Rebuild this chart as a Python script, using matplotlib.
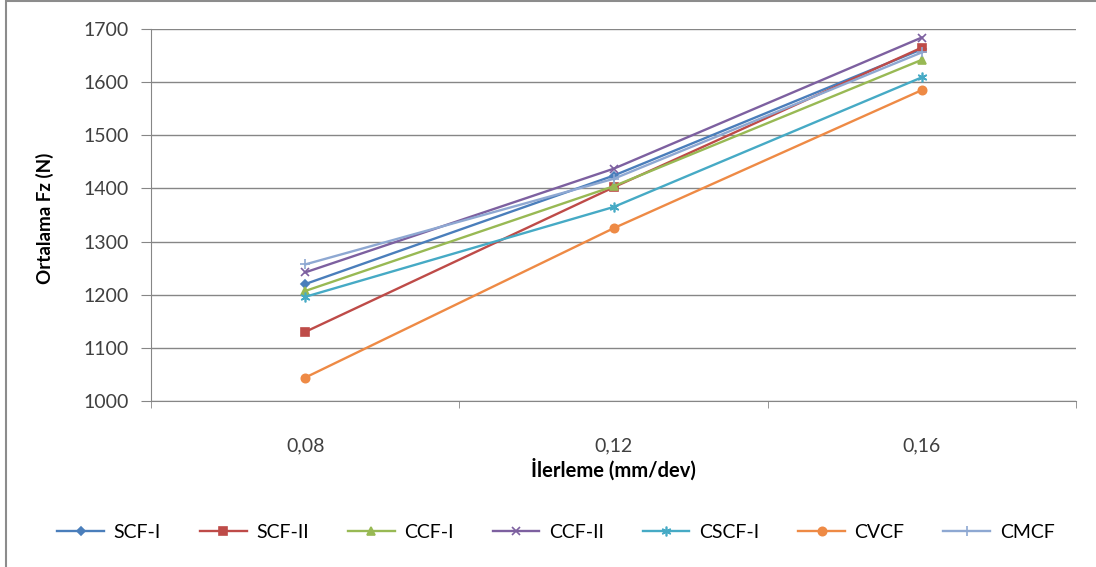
import numpy as np
import matplotlib.pyplot as plt
from matplotlib.patches import Rectangle

plt.rcParams['font.family'] = ['Lato', 'DejaVu Sans']

feeds = ['0,08', '0,12', '0,16']
series_names = ['SCF-I', 'SCF-II', 'CCF-I', 'CCF-II', 'CSCF-I', 'CVCF', 'CMCF']
scf_1 = [1220, 1424, 1662]
scf_2 = [1130, 1402, 1665]
ccf_1 = [1207, 1404, 1642]
ccf_2 = [1242, 1437, 1684]
cscf_1 = [1196, 1365, 1609]
cvcf = [1044, 1325, 1585]
cmcf = [1257, 1418, 1656]

colors = ['#4A7EBB', '#BE4B48', '#98B954', '#7D60A0', '#46AAC5', '#EE8A45', '#8EA8D2']
markers = ['D', 's', '^', 'x', (6, 2, 0), 'o', '+']
msizes = [4, 6, 6, 6, 7, 6, 7]

fig = plt.figure(figsize=(10.96, 5.67), dpi=100)
fig.patches.append(Rectangle((6 / 1096, -0.1), 1.2, 1 - 1 / 567 + 0.1,
                             transform=fig.transFigure, fill=False,
                             edgecolor='#8c8c8c', linewidth=1.5))
ax = fig.add_axes([151 / 1096, 1 - 401 / 567, 925 / 1096, 372 / 567])

x = np.arange(len(feeds))
for name, vals, c, m, ms in zip(series_names, [scf_1, scf_2, ccf_1, ccf_2, cscf_1, cvcf, cmcf],
                                colors, markers, msizes):
    ax.plot(x, vals, color=c, marker=m, markersize=ms, linewidth=1.7,
            markeredgewidth=1.2, label=name)

ax.set_xlim(-0.5, 2.5)
ax.set_ylim(1000, 1700)
ax.set_yticks(np.arange(1000, 1701, 100))
ax.set_xticks(x)
ax.set_xticklabels(feeds)
ax.set_xticks([-0.5, 0.5, 1.5, 2.5], minor=True)
ax.tick_params(axis='x', which='major', length=0, pad=26, labelsize=14, colors='#404040')
ax.tick_params(axis='x', which='minor', length=5, color='#868686')
ax.tick_params(axis='y', length=7, color='#868686', pad=9, labelsize=14, labelcolor='#404040')
ax.yaxis.grid(True, color='#868686', linewidth=1)
ax.set_axisbelow(True)
for s in ['top', 'right']:
    ax.spines[s].set_visible(False)
for s in ['left', 'bottom']:
    ax.spines[s].set_color('#868686')

fig.text(45 / 1096, 1 - 218 / 567, 'Ortalama Fz (N)', rotation=90, ha='center', va='center',
         fontsize=13.5, fontweight='bold')
fig.text(613 / 1096, 1 - 470 / 567, 'İlerleme (mm/dev)', ha='center', va='center',
         fontsize=14.5, fontweight='bold')

fig.legend(loc='center', bbox_to_anchor=(556 / 1096, 1 - 532 / 567), ncol=7, frameon=False,
           fontsize=14, handlelength=2.4, columnspacing=2.0, handletextpad=0.5)

fig.savefig('out.png', dpi=100)
